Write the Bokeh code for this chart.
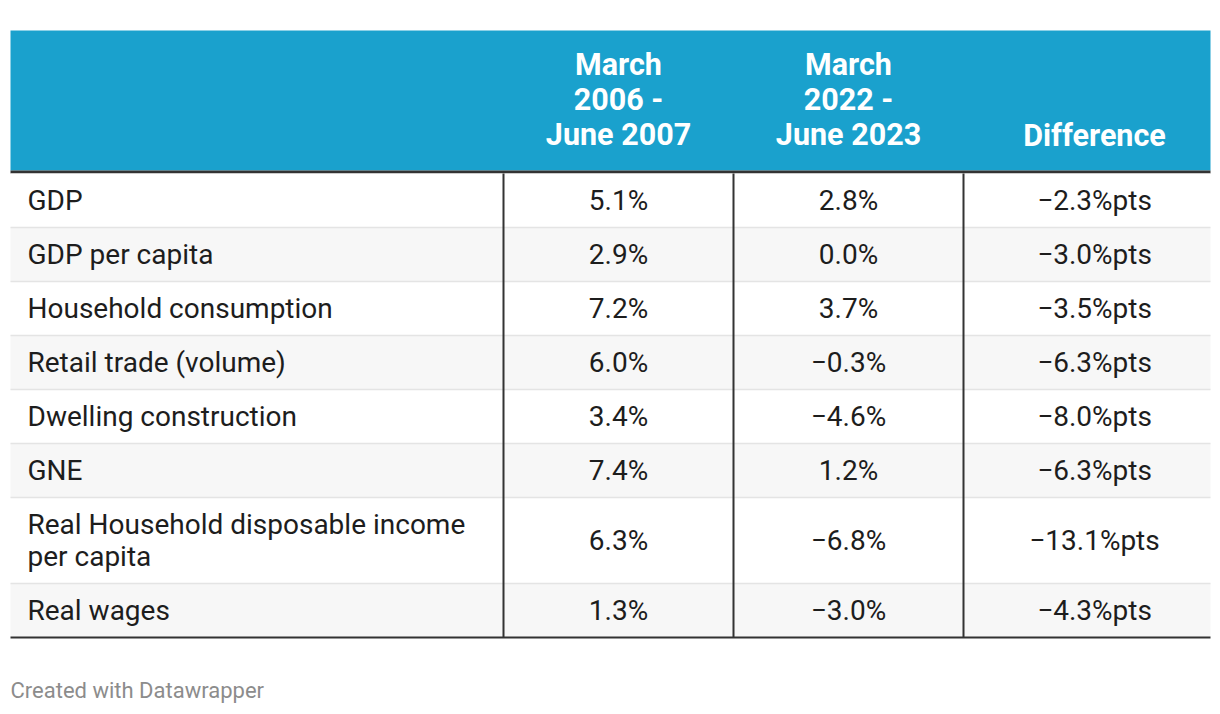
from bokeh.plotting import figure
from bokeh.models import ColumnDataSource
from bokeh.core.properties import value
from bokeh.embed import file_html
from bokeh.resources import INLINE

# ---------------- data ----------------
labels = [
    "GDP",
    "GDP per capita",
    "Household consumption",
    "Retail trade (volume)",
    "Dwelling construction",
    "GNE",
    "Real Household disposable income\nper capita",
    "Real wages",
]
period_2006_2007 = [5.1, 2.9, 7.2, 6.0, 3.4, 7.4, 6.3, 1.3]
period_2022_2023 = [2.8, 0.0, 3.7, -0.3, -4.6, 1.2, -6.8, -3.0]
difference = [-2.3, -3.0, -3.5, -6.3, -8.0, -6.3, -13.1, -4.3]
col_headers = ["March\n2006 -\nJune 2007", "March\n2022 -\nJune 2023", "Difference"]
footer_text = "Created with Datawrapper"

# ---------------- layout / style ----------------
FONT = "Roboto"
TABLE_L, TABLE_R = 10, 1210
HEAD_T, HEAD_B = 30, 170
RULE_H = 3
ROW_1LINE, ROW_LINE_EXTRA = 54, 32
COL_EDGES = [10, 503, 733, 963, 1210]
COL_CENTERS = [618, 848, 1094]
LABEL_X = 27
HEAD_COLOR = "#1aa1cd"
DARK = "#333333"
TXT = "#1d1d1d"


def fmt(v, suffix):
    s = f"{abs(v):.1f}{suffix}"
    return ("\u2212" + s) if v < 0 else s


# rows geometry
tops, bottoms, centers, fills = [], [], [], []
y = HEAD_B + RULE_H
for i, lab in enumerate(labels):
    n = lab.count("\n") + 1
    h = ROW_1LINE + (n - 1) * ROW_LINE_EXTRA
    tops.append(y)
    bottoms.append(y + h)
    centers.append(y + h / 2)
    fills.append("#ffffff" if i % 2 == 0 else "#f7f7f7")
    y += h
table_bottom = y

p = figure(
    width=1212, height=706,
    x_range=(0, 1212), y_range=(706, 0),
    toolbar_location=None, output_backend="svg",
    x_axis_location=None, y_axis_location=None,
    min_border=0, outline_line_color=None,
    background_fill_color="white", border_fill_color="white",
)
p.grid.visible = False

# header background and rule
p.quad(left=[TABLE_L], right=[TABLE_R], top=[HEAD_T], bottom=[HEAD_B],
       fill_color=HEAD_COLOR, line_color=None)
p.quad(left=[TABLE_L], right=[TABLE_R], top=[HEAD_B], bottom=[HEAD_B + RULE_H],
       fill_color=DARK, line_color=None)

# row backgrounds
rows = ColumnDataSource(dict(
    top=tops, bottom=bottoms, center=centers, fill=fills,
    label=labels,
    v1=[fmt(v, "%") for v in period_2006_2007],
    v2=[fmt(v, "%") for v in period_2022_2023],
    v3=[fmt(v, "%pts") for v in difference],
))
p.quad(left=TABLE_L, right=TABLE_R, top="top", bottom="bottom",
       fill_color="fill", line_color=None, source=rows)

# light separators between rows
p.segment(x0=[TABLE_L] * (len(labels) - 1), x1=[TABLE_R] * (len(labels) - 1),
          y0=bottoms[:-1], y1=bottoms[:-1], line_color="#e4e4e4", line_width=1.5)
# bottom border
p.segment(x0=[TABLE_L], x1=[TABLE_R], y0=[table_bottom], y1=[table_bottom],
          line_color=DARK, line_width=2)
# vertical column lines
vx = COL_EDGES[1:4]
p.segment(x0=vx, x1=vx, y0=[HEAD_B + RULE_H] * 3, y1=[table_bottom] * 3,
          line_color=DARK, line_width=2)

# cell text
p.text(x=LABEL_X, y="center", text="label", source=rows,
       text_font=value(FONT), text_font_size="28px", text_color=TXT,
       text_align="left", text_baseline="middle", text_line_height=0.98)
for cx, col in zip(COL_CENTERS, ["v1", "v2", "v3"]):
    p.text(x=cx, y="center", text=col, source=rows,
           text_font=value(FONT), text_font_size="28px", text_color=TXT,
           text_align="center", text_baseline="middle")

# header text (bottom aligned)
LAST_LINE_Y = 135
HEAD_LINE = 36
hy = [LAST_LINE_Y - (h.count("\n")) * HEAD_LINE / 2 for h in col_headers]
p.text(x=COL_CENTERS, y=hy, text=col_headers,
       text_font=value(FONT), text_font_size="30.5px", text_font_style="bold",
       text_color="white", text_align="center", text_baseline="middle",
       text_line_height=1.0)

# footer
p.text(x=[10], y=[690], text=[footer_text],
       text_font=value(FONT), text_font_size="22px", text_color="#8c8c8c",
       text_align="left", text_baseline="middle")

open("out.html", "w").write(file_html(p, INLINE))
